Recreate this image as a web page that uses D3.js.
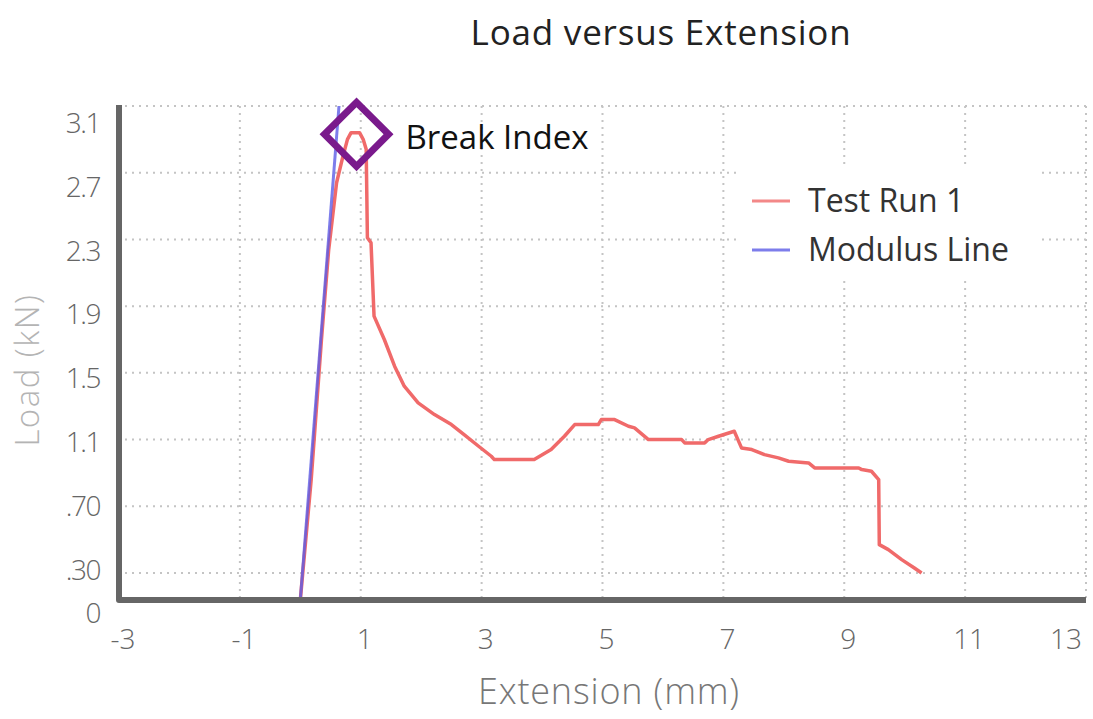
<!DOCTYPE html>
<html>
<head>
<meta charset="utf-8">
<script src="https://cdn.jsdelivr.net/npm/d3@7"></script>
<style>
  body { margin: 0; background: #fff; }
  text { font-family: 'Open Sans', 'Noto Sans', sans-serif; }
</style>
</head>
<body>
<div id="chart"></div>
<script>
// tick values / labels
const xTicks = [-3, -1, 1, 3, 5, 7, 9, 11, 13]
const yTicks = [0, 0.3, 0.7, 1.1, 1.5, 1.9, 2.3, 2.7, 3.1]
const yTickLabels = ['0', '.30', '.70', '1.1', '1.5', '1.9', '2.3', '2.7', '3.1']

// Test Run 1 (extension mm, load kN)
const runExt = [0.0, 0.18, 0.35, 0.47, 0.60, 0.70, 0.78, 0.84, 0.98, 1.04, 1.09, 1.11, 1.17, 1.22,
  1.39, 1.56, 1.72, 1.95, 2.22, 2.50, 2.71, 2.95, 3.16, 3.21, 3.87, 4.15, 4.37, 4.54, 4.93, 4.98,
  5.20, 5.43, 5.53, 5.76, 6.31, 6.36, 6.69, 6.75, 6.92, 7.18, 7.30, 7.47, 7.68, 7.91, 8.08, 8.41,
  8.51, 9.24, 9.29, 9.45, 9.57, 9.58, 9.73, 9.95, 10.16, 10.28]
const runLoad = [0.0, 0.86, 1.70, 2.24, 2.64, 2.79, 2.90, 2.94, 2.94, 2.90, 2.84, 2.31, 2.28, 1.84,
  1.70, 1.54, 1.42, 1.32, 1.25, 1.19, 1.13, 1.06, 1.00, 0.98, 0.98, 1.04, 1.12, 1.19, 1.19, 1.22,
  1.22, 1.18, 1.17, 1.10, 1.10, 1.08, 1.08, 1.10, 1.12, 1.15, 1.05, 1.04, 1.01, 0.99, 0.97, 0.96,
  0.93, 0.93, 0.92, 0.91, 0.86, 0.47, 0.44, 0.38, 0.33, 0.30]

// Modulus line
const modExt = [0.0, 0.64]
const modLoad = [0.0, 3.1]

// break index marker
const breakExt = 0.93
const breakLoad = 2.93

const seriesNames = ['Test Run 1', 'Modulus Line']
const seriesColors = ['#f06a6a', '#5c5ce6']

const W = 1093, H = 719
const svg = d3.select('#chart').append('svg')
  .attr('width', W)
  .attr('height', H)

let x = d3.scaleLinear().domain([-3, 13]).range([119, 1086])
// the axis bottom is labelled 0 but the grid starts at .30
let y = d3.scaleLinear().domain([0, 0.3, 3.1]).range([600, 573, 106])
// tick labels in the original sit a little apart from their grid lines
let yLabel = d3.scaleLinear().domain([0, 0.3, 3.1]).range([613, 570, 123])

// grid
let grid = svg.append('g')
grid.selectAll('line.h')
  .data(yTicks.slice(1))
  .enter().append('line')
  .attr('class', 'h')
  .attr('x1', 125).attr('x2', x(13) + 2)
  .attr('y1', d => y(d)).attr('y2', d => y(d))
grid.selectAll('line.v')
  .data(xTicks.slice(1))
  .enter().append('line')
  .attr('class', 'v')
  .attr('x1', d => x(d)).attr('x2', d => x(d))
  .attr('y1', y(3.1)).attr('y2', 598)
grid.selectAll('line')
  .attr('stroke', '#c4c4c4')
  .attr('stroke-width', 2)
  .attr('stroke-dasharray', '2,5')

// title
svg.append('text')
  .attr('x', 661).attr('y', 45)
  .attr('text-anchor', 'middle')
  .attr('font-size', '35px')
  .attr('letter-spacing', '0.8px')
  .attr('fill', '#222')
  .text('Load versus Extension')

// lines
let line = d3.line()
  .x(d => x(d[0]))
  .y(d => y(d[1]))

svg.append('path')
  .datum(d3.zip(runExt, runLoad))
  .attr('d', line)
  .attr('fill', 'none')
  .attr('stroke', seriesColors[0])
  .attr('stroke-width', 3.5)
  .attr('stroke-linejoin', 'round')

svg.append('path')
  .datum(d3.zip(modExt, modLoad))
  .attr('d', line)
  .attr('fill', 'none')
  .attr('stroke', seriesColors[1])
  .attr('stroke-width', 3)
  .attr('stroke-opacity', 0.8)

// axes lines (thick, rounded corner)
svg.append('path')
  .attr('d', 'M' + x(-3) + ',' + (y(3.1) - 1) + 'L' + x(-3) + ',' + y(0) + 'L' + x(13) + ',' + y(0))
  .attr('fill', 'none')
  .attr('stroke', '#666')
  .attr('stroke-width', 6)
  .attr('stroke-linejoin', 'round')

// x tick labels
svg.append('g').selectAll('text')
  .data(xTicks)
  .enter().append('text')
  .attr('x', (d, i) => i === xTicks.length - 1 ? x(d) - 4 : x(d) + 4)
  .attr('y', 639)
  .attr('dy', '0.35em')
  .attr('text-anchor', (d, i) => i === xTicks.length - 1 ? 'end' : 'middle')
  .attr('font-size', '28px')
  .attr('font-weight', 300)
  .attr('fill', '#666')
  .text(d => d)

// y tick labels
svg.append('g').selectAll('text')
  .data(yTicks)
  .enter().append('text')
  .attr('x', 100)
  .attr('y', d => yLabel(d))
  .attr('dy', '0.35em')
  .attr('text-anchor', 'end')
  .attr('font-size', '28px')
  .attr('font-weight', 300)
  .attr('letter-spacing', '-1.5px')
  .attr('fill', '#666')
  .text((d, i) => yTickLabels[i])

// axis titles
svg.append('text')
  .attr('x', 609).attr('y', 691)
  .attr('dy', '0.35em')
  .attr('text-anchor', 'middle')
  .attr('font-size', '36px')
  .attr('font-weight', 300)
  .attr('letter-spacing', '0.8px')
  .attr('fill', '#777')
  .text('Extension (mm)')

svg.append('text')
  .attr('transform', 'translate(27,370)rotate(-90)')
  .attr('dy', '0.35em')
  .attr('text-anchor', 'middle')
  .attr('font-size', '33px')
  .attr('font-weight', 300)
  .attr('letter-spacing', '1.5px')
  .attr('fill', '#b4b4b4')
  .text('Load (kN)')

// legend
let legend = svg.append('g')
legend.append('rect')
  .attr('x', 738).attr('y', 165)
  .attr('width', 302).attr('height', 112)
  .attr('fill', '#fff')
let items = legend.selectAll('g.item')
  .data(seriesNames)
  .enter().append('g')
  .attr('class', 'item')
  .attr('transform', (d, i) => 'translate(752,' + (201 + i * 49) + ')')
items.append('line')
  .attr('x1', 0).attr('x2', 38)
  .attr('stroke', (d, i) => seriesColors[i])
  .attr('stroke-width', 3)
  .attr('stroke-opacity', 0.8)
items.append('text')
  .attr('x', 56)
  .attr('dy', '0.35em')
  .attr('font-size', '32px')
  .attr('fill', '#333')
  .text(d => d)

// break index marker + label
svg.append('path')
  .attr('d', d3.symbol(d3.symbolSquare, 2050)())
  .attr('transform', 'translate(' + x(breakExt) + ',' + y(breakLoad) + ')rotate(45)')
  .attr('fill', 'none')
  .attr('stroke', '#7a1a8c')
  .attr('stroke-width', 7)
svg.append('text')
  .attr('x', x(breakExt) + 49)
  .attr('y', y(breakLoad) + 3)
  .attr('dy', '0.35em')
  .attr('font-size', '33px')
  .attr('fill', '#111')
  .text('Break Index')
</script>
</body>
</html>
